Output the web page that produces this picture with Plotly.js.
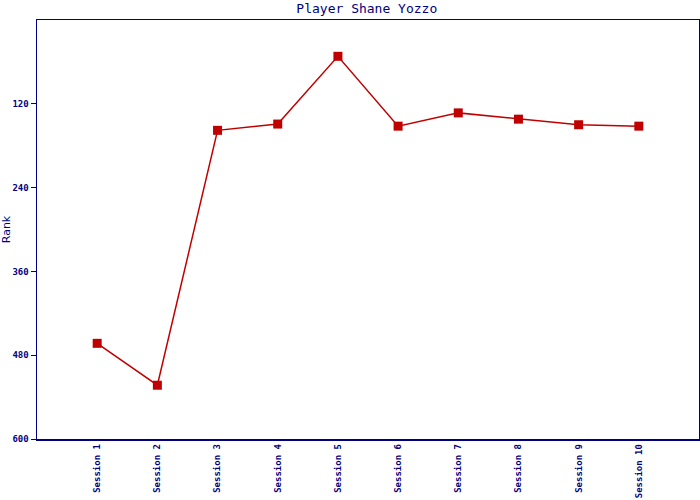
<!DOCTYPE html>
<html>
<head>
<meta charset="utf-8">
<script src="https://cdn.plot.ly/plotly-3.0.1.min.js"></script>
<style>html,body{margin:0;padding:0;background:#fff;}#chart{width:700px;height:500px;}</style>
</head>
<body>
<div id="chart"></div>
<script>
const sessions = ["Session 1","Session 2","Session 3","Session 4","Session 5","Session 6","Session 7","Session 8","Session 9","Session 10"];
const ranks = [463, 523, 158, 149, 52, 152, 133, 142, 150, 152];
const yTicks = [120, 240, 360, 480, 600];

const navy = "#000080";
const trace = {
  x: sessions.map((s, i) => i),
  y: ranks,
  type: "scatter",
  mode: "lines+markers",
  line: {color: "#C00000", width: 1.5},
  marker: {color: "#C00000", symbol: "square", size: 9},
  hoverinfo: "skip"
};
const layout = {
  width: 700, height: 500,
  margin: {l: 37, r: 1, t: 20, b: 61, pad: 0},
  paper_bgcolor: "#fff", plot_bgcolor: "#fff",
  showlegend: false,
  title: {text: "Player Shane Yozzo", x: 0.524, xanchor: "center", y: 0.992, yanchor: "top",
          font: {family: "DejaVu Sans Mono", size: 13, color: navy}},
  xaxis: {
    range: [-1, 10], tickmode: "array",
    tickvals: sessions.map((s, i) => i), ticktext: sessions,
    tickangle: -90, tickfont: {family: "DejaVu Sans Mono", size: 9, color: navy, weight: "bold"},
    showgrid: false, zeroline: false, showline: true, linecolor: navy, linewidth: 1.5, mirror: true,
    ticks: "", ticklen: 0
  },
  yaxis: {
    range: [600, 0], tickmode: "array", tickvals: yTicks, ticktext: yTicks.map(String),
    tickfont: {family: "DejaVu Sans Mono", size: 9, color: navy, weight: "bold"},
    ticks: "outside", ticklen: 5, tickcolor: navy, tickwidth: 1,
    showgrid: false, zeroline: false, showline: true, linecolor: navy, linewidth: 1.5, mirror: true,
    title: {text: "Rank", standoff: 4, font: {family: "DejaVu Sans", size: 11, color: navy}}
  }
};
Plotly.newPlot("chart", [trace], layout, {displayModeBar: false, staticPlot: true});
</script>
</body>
</html>
